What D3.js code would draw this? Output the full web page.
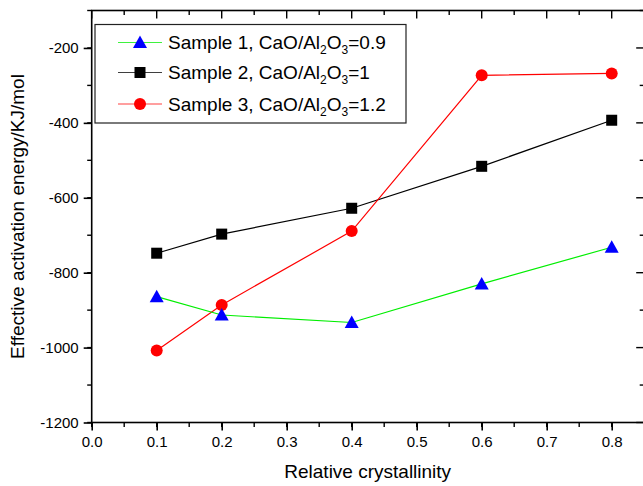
<!DOCTYPE html>
<html>
<head>
<meta charset="utf-8">
<script src="https://cdn.jsdelivr.net/npm/d3@7"></script>
<style>
  html, body { margin: 0; padding: 0; background: #fff; }
  svg { display: block; font-family: Arial, "Liberation Sans", sans-serif; }
</style>
</head>
<body>
<svg id="chart" width="643" height="486"></svg>
<script>
// Relative crystallinity values shared by all samples
const crystallinity = [0.1, 0.2, 0.4, 0.6, 0.8];

// Effective activation energy (kJ/mol) per sample
const sample1 = [-864, -913, -933, -830, -732];
const sample2 = [-748, -697, -628, -516, -393];
const sample3 = [-1008, -886, -689, -273, -268];

const seriesNames = ["Sample 1", "Sample 2", "Sample 3"];
const ratioLabels = ["0.9", "1", "1.2"];

const xTicks = [0.0, 0.1, 0.2, 0.3, 0.4, 0.5, 0.6, 0.7, 0.8];
const yTicks = [-1200, -1000, -800, -600, -400, -200];

const series = [
  { name: seriesNames[0], ratio: ratioLabels[0], values: sample1, color: "#00ee00", marker: "triangle", markerColor: "#0000ff" },
  { name: seriesNames[1], ratio: ratioLabels[1], values: sample2, color: "#000000", marker: "square", markerColor: "#000000" },
  { name: seriesNames[2], ratio: ratioLabels[2], values: sample3, color: "#ff0000", marker: "circle", markerColor: "#ff0000" }
];

const svg = d3.select("#chart");
const plotLeft = 91.7, plotTop = 10.5, plotBottom = 422.5;

const x = d3.scaleLinear().domain([0, 0.85]).range([plotLeft, plotLeft + 0.85 * 650]);
const y = d3.scaleLinear().domain([-1200, -100]).range([plotBottom, plotTop]);

const plotRight = x(0.85);
const font = 'Arial, "Liberation Sans", sans-serif';

// Frame
svg.append("rect")
  .attr("x", plotLeft).attr("y", plotTop)
  .attr("width", plotRight - plotLeft).attr("height", plotBottom - plotTop)
  .attr("fill", "none").attr("stroke", "#000").attr("stroke-width", 1.6);

const minorX = d3.range(0, 0.851, 0.05);
const minorY = d3.range(-1200, -99, 100);

// Bottom axis: ticks outward
const gx = svg.append("g").attr("transform", `translate(0,${plotBottom})`)
  .call(d3.axisBottom(x).tickValues(xTicks).tickFormat(d3.format(".1f")).tickSize(8).tickPadding(6));
gx.select(".domain").remove();
gx.selectAll(".tick line").attr("stroke-width", 1.6);
gx.selectAll(".tick text").attr("font-size", 15).attr("font-family", font).attr("fill", "#000");
svg.append("g").selectAll("line").data(minorX).join("line")
  .attr("x1", d => x(d)).attr("x2", d => x(d))
  .attr("y1", plotBottom).attr("y2", plotBottom + 4.5)
  .attr("stroke", "#000").attr("stroke-width", 1.4);

// Top axis: ticks inward
svg.append("g").selectAll("line").data(minorX).join("line")
  .attr("x1", d => x(d)).attr("x2", d => x(d))
  .attr("y1", plotTop).attr("y2", (d, i) => plotTop + (i % 2 === 0 ? 8 : 4.5))
  .attr("stroke", "#000").attr("stroke-width", 1.4);

// Left axis: ticks outward, plain hyphen for negative numbers
const gy = svg.append("g").attr("transform", `translate(${plotLeft},0)`)
  .call(d3.axisLeft(y).tickValues(yTicks).tickFormat(d => String(d)).tickSize(8).tickPadding(5));
gy.select(".domain").remove();
gy.selectAll(".tick line").attr("stroke-width", 1.6);
gy.selectAll(".tick text").attr("font-size", 15).attr("font-family", font).attr("fill", "#000");
svg.append("g").selectAll("line").data(minorY).join("line")
  .attr("x1", plotLeft - 4.5).attr("x2", plotLeft)
  .attr("y1", d => y(d)).attr("y2", d => y(d))
  .attr("stroke", "#000").attr("stroke-width", 1.4);

// Right axis: ticks inward
svg.append("g").selectAll("line").data(minorY).join("line")
  .attr("x1", (d, i) => plotRight - (i % 2 === 0 ? 8 : 4.5)).attr("x2", plotRight)
  .attr("y1", d => y(d)).attr("y2", d => y(d))
  .attr("stroke", "#000").attr("stroke-width", 1.4);

// Axis titles
svg.append("text")
  .attr("x", (plotLeft + 611.7) / 2 + 16).attr("y", 478)
  .attr("text-anchor", "middle").attr("font-size", 19).attr("font-family", font)
  .text("Relative crystallinity");

svg.append("text")
  .attr("transform", `translate(24,${(plotTop + plotBottom) / 2}) rotate(-90)`)
  .attr("text-anchor", "middle").attr("font-size", 19).attr("font-family", font)
  .text("Effective activation energy/KJ/mol");

// Marker shapes
function drawMarker(g, type, cx, cy, color) {
  if (type === "triangle") {
    g.append("path")
      .attr("d", `M${cx},${cy - 7} L${cx + 7},${cy + 5.5} L${cx - 7},${cy + 5.5} Z`)
      .attr("fill", color);
  } else if (type === "square") {
    g.append("rect")
      .attr("x", cx - 5.5).attr("y", cy - 5.5).attr("width", 11).attr("height", 11)
      .attr("fill", color);
  } else {
    g.append("circle").attr("cx", cx).attr("cy", cy).attr("r", 6).attr("fill", color);
  }
}

const line = d3.line().x((d, i) => x(crystallinity[i])).y(d => y(d));

// Series lines and markers (draw order: sample 2, sample 3, sample 1)
[1, 2, 0].forEach(k => {
  const s = series[k];
  const g = svg.append("g");
  g.append("path").datum(s.values)
    .attr("d", line).attr("fill", "none")
    .attr("stroke", s.color).attr("stroke-width", 1.2);
  s.values.forEach((v, i) => drawMarker(g, s.marker, x(crystallinity[i]), y(v), s.markerColor));
});

// Legend
const legend = svg.append("g");
legend.append("rect")
  .attr("x", 95).attr("y", 24.5).attr("width", 311).attr("height", 98.5)
  .attr("fill", "#fff").attr("stroke", "#222").attr("stroke-width", 1.2);

const rowY = [42.5, 72.5, 104];
series.forEach((s, i) => {
  const cy = rowY[i];
  legend.append("line")
    .attr("x1", 118).attr("x2", 162).attr("y1", cy).attr("y2", cy)
    .attr("stroke", s.color).attr("stroke-width", 1.2).attr("opacity", 0.75);
  drawMarker(legend, s.marker, 140, cy, s.markerColor);
  const t = legend.append("text")
    .attr("x", 168).attr("y", cy + 6.5)
    .attr("font-size", 19).attr("font-family", font);
  t.append("tspan").text(`${s.name}, CaO/Al`);
  t.append("tspan").attr("font-size", 12).attr("dy", 5).text("2");
  t.append("tspan").attr("dy", -5).text("O");
  t.append("tspan").attr("font-size", 12).attr("dy", 5).text("3");
  t.append("tspan").attr("dy", -5).text(`=${s.ratio}`);
});
</script>
</body>
</html>
